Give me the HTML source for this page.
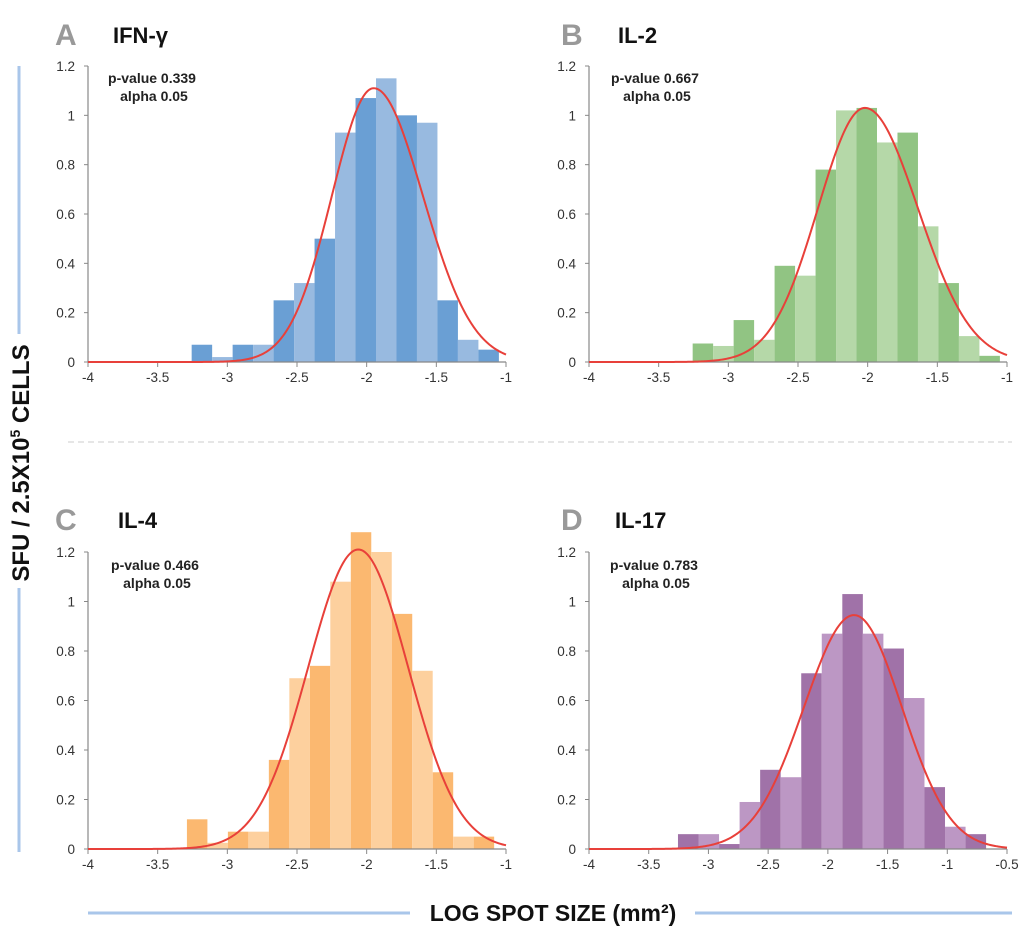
<!DOCTYPE html>
<html><head><meta charset="utf-8"><style>
html,body{margin:0;padding:0;background:#fff;}
svg{display:block;font-family:"Liberation Sans",sans-serif;}
</style></head><body>
<svg id="chart" width="1024" height="936" viewBox="0 0 1024 936">
<line x1="68" y1="442" x2="1012" y2="442" stroke="#ccc" stroke-dasharray="6,4"/>
<line x1="19" y1="66" x2="19" y2="334" stroke="#a9c6ea" stroke-width="3"/>
<line x1="19" y1="588" x2="19" y2="852" stroke="#a9c6ea" stroke-width="3"/>
<text transform="translate(29,463) rotate(-90)" text-anchor="middle" font-size="24" font-weight="bold" fill="#111">SFU / 2.5X10<tspan font-size="14" dy="-9">5</tspan><tspan dy="9"> CELLS</tspan></text>
<line x1="88" y1="913" x2="410" y2="913" stroke="#a9c6ea" stroke-width="3"/>
<line x1="695" y1="913" x2="1012" y2="913" stroke="#a9c6ea" stroke-width="3"/>
<text x="553" y="921" text-anchor="middle" font-size="23" font-weight="bold" fill="#111">LOG SPOT SIZE (mm²)</text>
</svg>
<script>
const panelLetters = ["A","B","C","D"];
const panelTitles = ["IFN-γ","IL-2","IL-4","IL-17"];
const pValues = ["0.339","0.667","0.466","0.783"];
const yTicks = [0,0.2,0.4,0.6,0.8,1,1.2];
const yTickLabels = ["0","0.2","0.4","0.6","0.8","1","1.2"];
const xTicksAB = [-4,-3.5,-3,-2.5,-2,-1.5,-1];
const xTicksD = [-4,-3.5,-3,-2.5,-2,-1.5,-1,-0.5];
const binStarts = [-3.256,-3.256,-3.29,-3.255];
const binWidths = [0.147,0.147,0.147,0.172];
const valuesA = [0.07,0.02,0.07,0.07,0.25,0.32,0.5,0.93,1.07,1.15,1.0,0.97,0.25,0.09,0.05];
const valuesB = [0.075,0.065,0.17,0.09,0.39,0.35,0.78,1.02,1.03,0.89,0.93,0.55,0.32,0.105,0.025];
const valuesC = [0.12,0.025,0.07,0.07,0.36,0.69,0.74,1.08,1.28,1.2,0.95,0.72,0.31,0.05,0.05];
const valuesD = [0.06,0.06,0.02,0.19,0.32,0.29,0.71,0.87,1.03,0.87,0.81,0.61,0.25,0.09,0.06];
const fitMeans = [-1.95,-2.02,-2.06,-1.78];
const fitPeaks = [1.11,1.03,1.21,0.945];
const fitSigmaLeft = [0.3,0.336,0.36,0.42];
const fitSigmaRight = [0.354,0.38,0.358,0.4];

const svg = document.getElementById('chart');
const NS = 'http://www.w3.org/2000/svg';
function mk(tag, attrs, parent){const e=document.createElementNS(NS,tag);for(const k in attrs)e.setAttribute(k,attrs[k]);(parent||svg).appendChild(e);return e;}

const layout = [
 {x0:88,x1:506,y0:362,yt:66,xmax:-1,ticks:xTicksAB,lx:55,tx:113,by:43,px:152,py:83,dark:"#6a9fd4",light:"#98bae0",vals:valuesA},
 {x0:589,x1:1007,y0:362,yt:66,xmax:-1,ticks:xTicksAB,lx:561,tx:618,by:43,px:655,py:83,dark:"#91c483",light:"#b5d8a8",vals:valuesB},
 {x0:88,x1:506,y0:849,yt:552,xmax:-1,ticks:xTicksAB,lx:55,tx:118,by:528,px:155,py:570,dark:"#fbb870",light:"#fdd09e",vals:valuesC},
 {x0:589,x1:1007,y0:849,yt:552,xmax:-0.5,ticks:xTicksD,lx:561,tx:615,by:528,px:654,py:570,dark:"#a072a8",light:"#bc97c4",vals:valuesD}
];
const names=['ifn-gamma','il-2','il-4','il-17'];

layout.forEach((L,i)=>{
  const g = mk('g',{});
  
  
  const xs = v => L.x0 + (v-(-4))/(L.xmax-(-4))*(L.x1-L.x0);
  const ys = v => L.y0 - v/1.2*(L.y0-L.yt);
  const lt = mk('text',{x:L.lx,y:L.by+2,'font-size':30,'font-weight':'bold',fill:'#999'},g);
  lt.textContent = panelLetters[i];
  
  
  const tt = mk('text',{x:L.tx,y:L.by,'font-size':22,'font-weight':'bold',fill:'#111'},g);
  tt.textContent = panelTitles[i];
  
  
  L.vals.forEach((v,j)=>{
    const a = binStarts[i]+j*binWidths[i];
    const r = mk('rect',{x:xs(a),y:ys(v),width:xs(a+binWidths[i])-xs(a),height:ys(0)-ys(v),fill:(j%2===0?L.dark:L.light)},g);
    
    
  });
  const ya = mk('line',{x1:L.x0,y1:L.yt,x2:L.x0,y2:L.y0,stroke:'#888','stroke-width':1.2},g);
  
  
  const xa = mk('line',{x1:L.x0,y1:L.y0,x2:L.x1,y2:L.y0,stroke:'#888','stroke-width':1.2},g);
  
  
  yTicks.forEach((t,k)=>{
    mk('line',{x1:L.x0-4,y1:ys(t),x2:L.x0,y2:ys(t),stroke:'#888'},g);
    const tl = mk('text',{x:L.x0-13,y:ys(t)+5,'text-anchor':'end','font-size':13.5,fill:'#333'},g);
    tl.textContent = yTickLabels[k];
    
    
  });
  L.ticks.forEach(t=>{
    mk('line',{x1:xs(t),y1:L.y0,x2:xs(t),y2:L.y0+5,stroke:'#888'},g);
    const tl = mk('text',{x:xs(t),y:L.y0+20,'text-anchor':'middle','font-size':13.5,fill:'#333'},g);
    tl.textContent = String(t);
    
    
  });
  let d='';
  for(let x=-4;x<=L.xmax+1e-9;x+=0.01){
    const s = x<fitMeans[i]?fitSigmaLeft[i]:fitSigmaRight[i];
    const y = fitPeaks[i]*Math.exp(-Math.pow(x-fitMeans[i],2)/(2*s*s));
    d += (d?'L':'M')+xs(x).toFixed(2)+','+ys(y).toFixed(2);
  }
  const c = mk('path',{d:d,fill:'none',stroke:'#e8403a','stroke-width':2},g);
  
  
  const p1 = mk('text',{x:L.px,y:L.py,'text-anchor':'middle','font-size':14,'font-weight':'bold',fill:'#222'},g);
  p1.textContent = 'p-value '+pValues[i];
  
  
  const p2 = mk('text',{x:L.px+2,y:L.py+18,'text-anchor':'middle','font-size':14,'font-weight':'bold',fill:'#222'},g);
  p2.textContent = 'alpha 0.05';
  
  
});
</script>
</body></html>
